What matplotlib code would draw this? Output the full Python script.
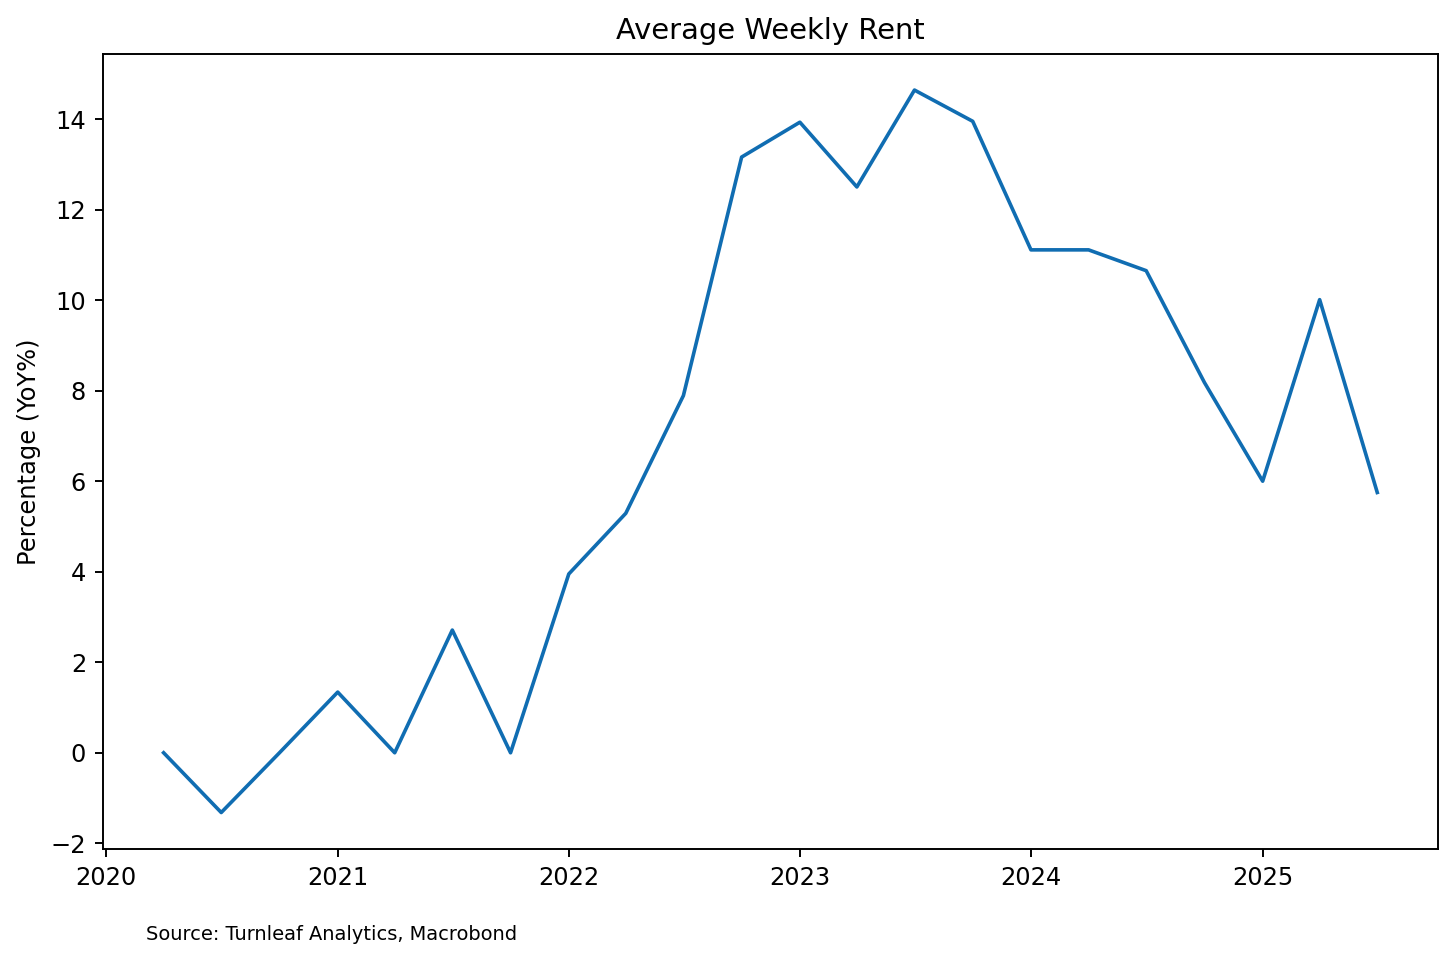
import pandas as pd
import matplotlib.pyplot as plt

# Quarterly YoY % change in average weekly rent
dates = pd.date_range('2020-04-01', '2025-07-01', freq='QS')
rent_yoy = [0.0, -1.32, 0.0, 1.34, 0.0, 2.71, 0.0, 3.95, 5.29, 7.89, 13.16,
            13.93, 12.5, 14.64, 13.95, 11.11, 11.11, 10.65, 8.18, 6.0, 10.01, 5.75]

dpi = 174
fig = plt.figure(figsize=(1456 / dpi, 960 / dpi), dpi=dpi)
ax = fig.add_axes([0.0707, 0.116, 0.9169, 0.8278])

ax.plot(dates, rent_yoy, color='#106db2', linewidth=1.5)

ax.set_title('Average Weekly Rent', fontsize=12)
ax.set_ylabel('Percentage (YoY%)', fontsize=10)
ax.tick_params(labelsize=10)

fig.text(0.1, 0.021, 'Source: Turnleaf Analytics, Macrobond', fontsize=8)

plt.savefig('out.png', dpi=dpi)
